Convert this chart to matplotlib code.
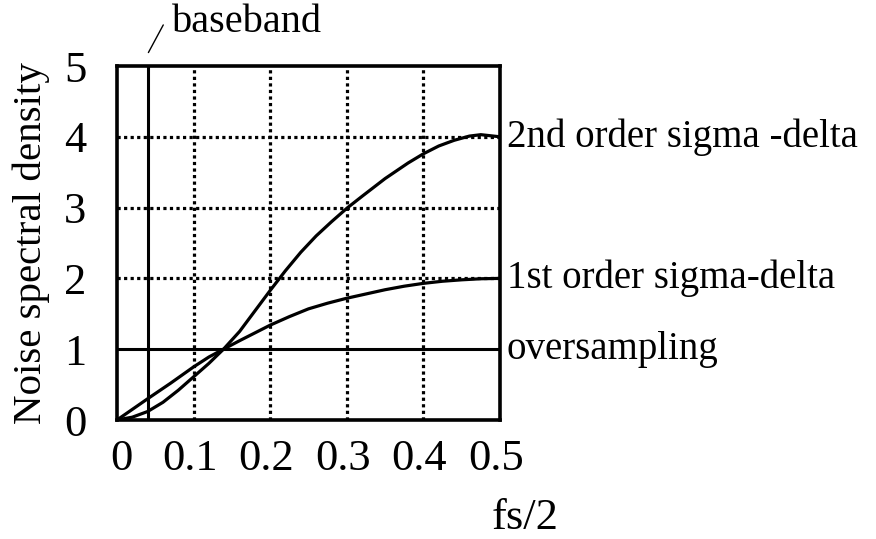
import matplotlib
matplotlib.use("Agg")
import matplotlib.pyplot as plt
from matplotlib.transforms import offset_copy

# Frequency (fraction of fs) and noise spectral density of each scheme
freq_2nd = [0.0, 0.02, 0.04, 0.06, 0.08, 0.1, 0.12, 0.139, 0.16, 0.18, 0.2, 0.22, 0.24,
            0.26, 0.28, 0.3, 0.32, 0.35, 0.38, 0.4, 0.42, 0.44, 0.46, 0.475, 0.5]
second_order = [0.0, 0.04, 0.12, 0.25, 0.42, 0.61, 0.80, 1.0, 1.25, 1.54, 1.83, 2.11, 2.37,
                2.60, 2.80, 2.99, 3.16, 3.41, 3.63, 3.76, 3.87, 3.95, 4.01, 4.03, 4.0]
freq_1st = [0.0, 0.02, 0.04, 0.07, 0.1, 0.12, 0.139, 0.16, 0.18, 0.2, 0.225, 0.25, 0.275,
            0.3, 0.325, 0.35, 0.375, 0.4, 0.425, 0.45, 0.475, 0.5]
first_order = [0.0, 0.15, 0.30, 0.52, 0.75, 0.89, 1.0, 1.12, 1.23, 1.34, 1.46, 1.57, 1.65,
               1.72, 1.78, 1.84, 1.89, 1.93, 1.96, 1.98, 1.995, 2.0]
oversampling_level = 1.0
baseband_edge = 0.04

x_ticks = [0, 0.1, 0.2, 0.3, 0.4, 0.5]
x_tick_labels = ["0", "0.1", "0.2", "0.3", "0.4", "0.5"]
y_ticks = [0, 1, 2, 3, 4, 5]
grid_x = [0.1, 0.2, 0.3, 0.4]
grid_y = [2, 3, 4]

curve_labels = ["2nd order sigma -delta", "1st order sigma-delta", "oversampling"]
curve_label_y = [4, 2, 1]

plt.rcParams["font.family"] = ["Liberation Serif", "DejaVu Serif"]

W, H = 876, 539
fig = plt.figure(figsize=(W / 100, H / 100), dpi=100)
ax = fig.add_axes([117 / W, 1 - 420 / H, 383 / W, 354 / H])

ax.set_xlim(0, 0.5)
ax.set_ylim(0, 5)

dots = (0, (1.0, 1.05))
for gx in grid_x:
    ax.axvline(gx, color="black", linestyle=dots, linewidth=2.3, zorder=1)
for gy in grid_y:
    ax.axhline(gy, color="black", linestyle=dots, linewidth=2.3, zorder=1)

ax.plot(freq_2nd, second_order, color="black", linewidth=2.3, zorder=3,
        solid_joinstyle="round")
ax.plot(freq_1st, first_order, color="black", linewidth=2.3, zorder=3,
        solid_joinstyle="round")
ax.axhline(oversampling_level, color="black", linewidth=2.2, zorder=3)
ax.axvline(baseband_edge, color="black", linewidth=2.2, zorder=3)

for s in ax.spines.values():
    s.set_linewidth(2.6)

ax.set_xticks(x_ticks)
ax.set_xticklabels(x_tick_labels)
ax.set_yticks(y_ticks)
ax.tick_params(length=0, labelsize=32)
ax.tick_params(axis="x", pad=14)
ax.tick_params(axis="y", pad=22)
for i, lbl in enumerate(ax.get_xticklabels()):
    dx = 4 if i == 0 else -4
    lbl.set_transform(offset_copy(lbl.get_transform(), fig=fig, x=dx, y=0, units="dots"))

ax.set_ylabel("Noise spectral density", fontsize=29.5, va="center")
ax.yaxis.set_label_coords(-(117 - 31) / 383, 0.5)

fig.text(492 / W, 1 - 529 / H, "fs/2", fontsize=32, ha="left", va="baseline")

for lbl, yv in zip(curve_labels, curve_label_y):
    ax.annotate(lbl, xy=(0.5, yv), xytext=(7, 0), textcoords="offset pixels",
                fontsize=28, ha="left", va="center", annotation_clip=False)

# baseband pointer
ax.annotate("", xy=(0.041, 5.19), xytext=(0.0604, 5.58),
            arrowprops=dict(arrowstyle="-", color="black", linewidth=1.0,
                            shrinkA=0, shrinkB=0), annotation_clip=False)
fig.text(172 / W, 1 - 22 / H, "baseband", fontsize=29, ha="left", va="center")

fig.savefig("out.png", dpi=100)
